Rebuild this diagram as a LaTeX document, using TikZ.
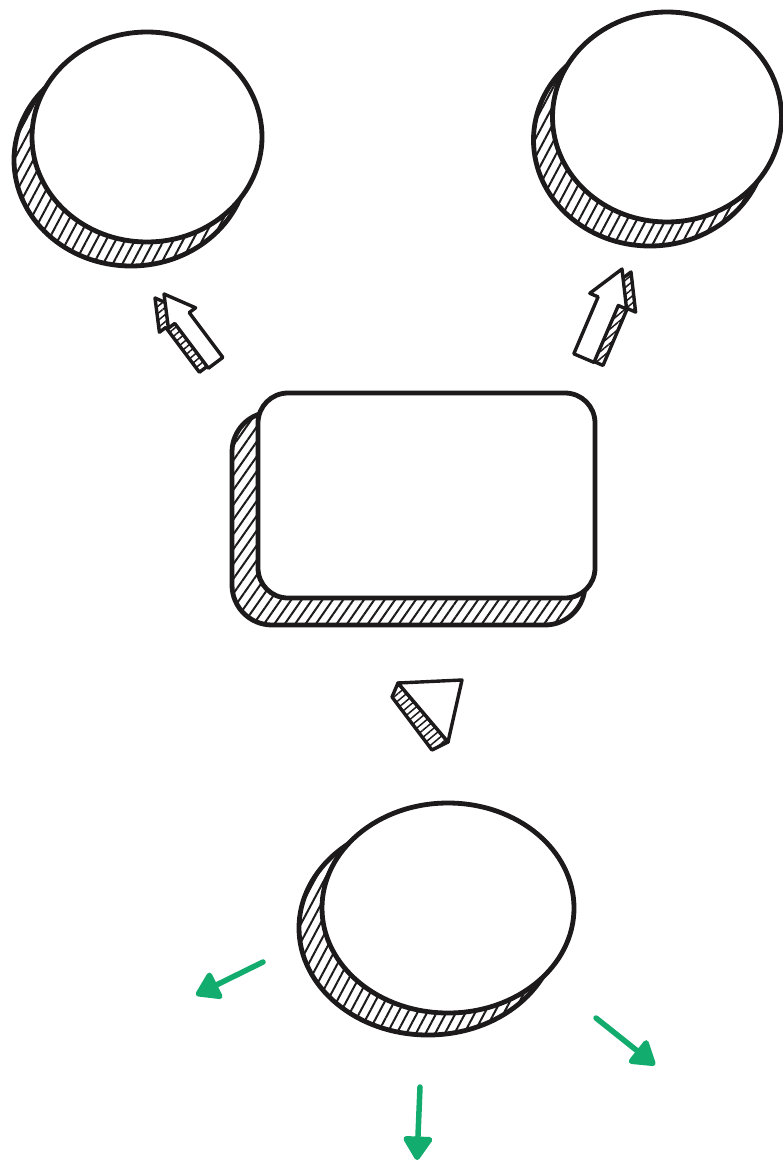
\documentclass[tikz,border=0pt]{standalone}
\usepackage{tikz}
\usetikzlibrary{shapes.geometric, arrows.meta, patterns.meta}
\definecolor{inkBlack}{RGB}{28, 26, 26}
\definecolor{leafGreen}{RGB}{18, 172, 110}

\begin{document}
\begin{tikzpicture}[
    x=1pt, y=-1pt,
    disc/.style={ellipse, draw=inkBlack, line width=4.8pt, fill=white, inner sep=0pt},
    disc_shadow/.style={ellipse, draw=inkBlack, line width=4.8pt, inner sep=0pt, pattern={Lines[angle=62, distance=8.5pt, line width=2pt]}, pattern color=inkBlack},
    card/.style={rectangle, draw=inkBlack, line width=4.8pt, fill=white, inner sep=0pt, rounded corners=30pt},
    card_shadow/.style={rectangle, draw=inkBlack, line width=4.8pt, inner sep=0pt, rounded corners=40pt, pattern={Lines[angle=55, distance=8.5pt, line width=2pt]}, pattern color=inkBlack},
    block/.style={draw=inkBlack, line width=3.4pt, line join=round, fill=white},
    block_shadow/.style={draw=inkBlack, line width=3.4pt, line join=round, pattern={Lines[angle=40, distance=5.5pt, line width=1.5pt]}, pattern color=inkBlack},
    green_arrow/.style={draw=leafGreen, line width=5.5pt, line cap=round, -{Triangle[length=26pt, width=32pt, round]}}
]
    % Page
    \fill[white] (0,0) rectangle (783,1164);
    \useasboundingbox (0,0) rectangle (783,1164);

    % Discs and card (shadow first)
    \node[disc_shadow, minimum width=234pt, minimum height=212pt] (leftShadow) at (131,160) {};
    \node[disc, minimum width=230pt, minimum height=210pt] (leftDisc) at (147,137) {};

    \node[disc_shadow, minimum width=233pt, minimum height=212pt] (rightShadow) at (650,140) {};
    \node[disc, minimum width=229pt, minimum height=210pt] (rightDisc) at (667,117) {};

    \node[card_shadow, minimum width=353pt, minimum height=213pt] (cardShadow) at (408.5,518.5) {};
    \node[card, minimum width=337pt, minimum height=205pt] (mainCard) at (426.5,495.5) {};

    \node[disc_shadow, minimum width=258pt, minimum height=214pt] (bottomShadow) at (428,928) {};
    \node[disc, minimum width=252pt, minimum height=210pt] (bottomDisc) at (448,908) {};

    % Block arrows
    \begin{scope}[shift={(-9,4)}]
        \draw[block_shadow] (164,294) -- (195.6,307.8) -- (189.2,312.6) -- (222.8,357.4) -- (208.4,368.2) -- (174.8,323.4) -- (168.4,328.2) -- cycle;
    \end{scope}
    \draw[block] (164,294) -- (195.6,307.8) -- (189.2,312.6) -- (222.8,357.4) -- (208.4,368.2) -- (174.8,323.4) -- (168.4,328.2) -- cycle;

    \begin{scope}[shift={(9,3)}]
        \draw[block_shadow] (622,269) -- (626.6,309.1) -- (618.3,305.5) -- (594,362.4) -- (573.8,353.8) -- (598.1,296.9) -- (589.8,293.3) -- cycle;
    \end{scope}
    \draw[block] (622,269) -- (626.6,309.1) -- (618.3,305.5) -- (594,362.4) -- (573.8,353.8) -- (598.1,296.9) -- (589.8,293.3) -- cycle;

    \draw[block_shadow] (392,697) -- (398,683) -- (448,742) -- (432,750) -- cycle;
    \draw[block] (398,683) -- (462,680) -- (448,742) -- cycle;

    % Green arrows
    \coordinate (leftFrom) at (263,962);
    \coordinate (leftTo) at (196,995);
    \coordinate (rightFrom) at (596,1018);
    \coordinate (rightTo) at (655,1065);
    \coordinate (downFrom) at (420,1087);
    \coordinate (downTo) at (417,1160);
    \draw[green_arrow] (leftFrom) -- (leftTo);
    \draw[green_arrow] (rightFrom) -- (rightTo);
    \draw[green_arrow] (downFrom) -- (downTo);
\end{tikzpicture}
\end{document}
